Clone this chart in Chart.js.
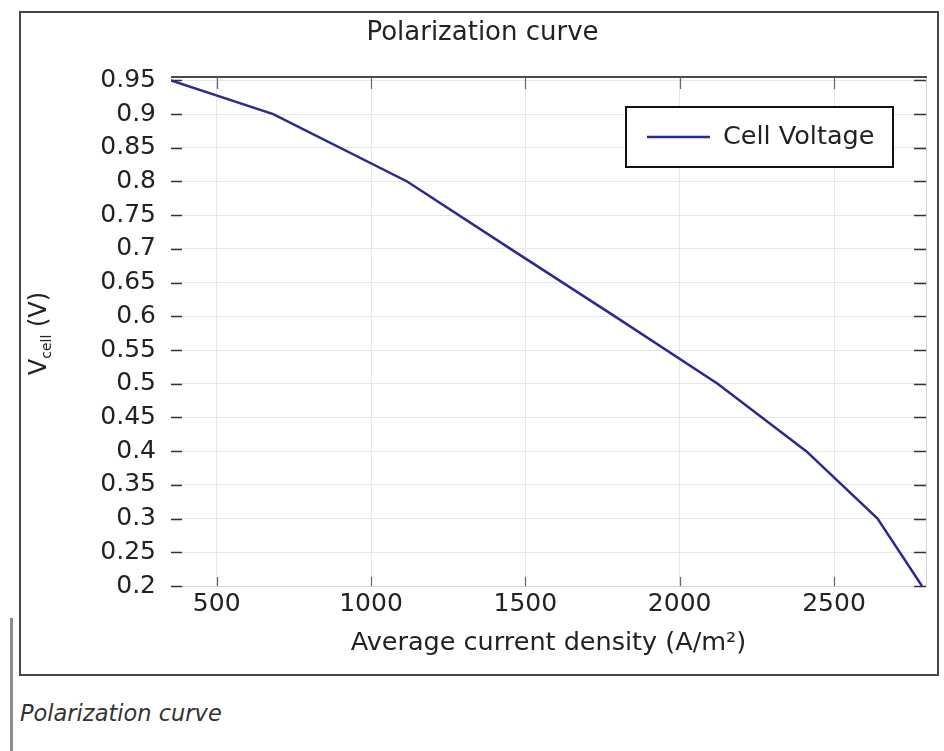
<!DOCTYPE html>
<html>
<head>
<meta charset="utf-8">
<title>Polarization curve</title>
<script src="https://cdn.jsdelivr.net/npm/chart.js@4.4.1/dist/chart.umd.min.js"></script>
<style>
  body { margin: 0; background: #fff; font-family: "DejaVu Sans", sans-serif; }
  #box { position: absolute; left: 19px; top: 11px; width: 916px; height: 661px; border: 2px solid #3d4850; background: #fff; }
  #bar { position: absolute; left: 10px; top: 618px; width: 3px; height: 133px; background: #8c8c8c; }
  #caption { position: absolute; left: 20px; top: 700px; font-style: italic; font-size: 22.5px; color: #333; }
</style>
</head>
<body>
<div id="box"><canvas id="myChart" width="916" height="661"></canvas></div>
<div id="bar"></div>
<div id="caption">Polarization curve</div>
<script>
// values
var currentDensity = [352, 683, 1117, 1452, 1790, 2123, 2410, 2641, 2785];
var cellVoltage = [0.95, 0.9, 0.8, 0.7, 0.6, 0.5, 0.4, 0.3, 0.2];
var xTicks = [500, 1000, 1500, 2000, 2500];
var yTicks = [0.2, 0.25, 0.3, 0.35, 0.4, 0.45, 0.5, 0.55, 0.6, 0.65, 0.7, 0.75, 0.8, 0.85, 0.9, 0.95];

var lineColor = '#2a2a92';
var textColor = '#222';
var fontFamily = 'DejaVu Sans';

Chart.defaults.font.family = fontFamily;

// ticks drawn inside the frame, on all four sides, plus the top frame line
var insideTicks = {
    id: 'insideTicks',
    beforeDatasetsDraw: function(chart) {
        var ctx = chart.ctx;
        var a = chart.chartArea;
        var sx = chart.scales.x;
        var sy = chart.scales.y;
        ctx.save();
        ctx.strokeStyle = '#d4d4d4';
        ctx.lineWidth = 1;
        ctx.beginPath();
        ctx.moveTo(a.right + 0.5, a.top);
        ctx.lineTo(a.right + 0.5, a.bottom);
        ctx.stroke();

        ctx.strokeStyle = '#4a4a4a';
        ctx.lineWidth = 2;
        ctx.beginPath();
        ctx.moveTo(a.left, a.top);
        ctx.lineTo(a.right + 1, a.top);
        ctx.stroke();

        ctx.strokeStyle = '#333';
        ctx.lineWidth = 1.5;
        ctx.beginPath();
        sy.ticks.forEach(function(t) {
            var py = Math.round(sy.getPixelForValue(t.value)) + 0.5;
            ctx.moveTo(a.left, py);
            ctx.lineTo(a.left + 11, py);
            ctx.moveTo(a.right - 12, py);
            ctx.lineTo(a.right, py);
        });
        ctx.stroke();
        ctx.strokeStyle = '#666';
        ctx.lineWidth = 1.2;
        ctx.beginPath();
        sx.ticks.forEach(function(t) {
            var px = Math.round(sx.getPixelForValue(t.value)) + 0.5;
            ctx.moveTo(px, a.bottom);
            ctx.lineTo(px, a.bottom - 9);
            ctx.moveTo(px, a.top);
            ctx.lineTo(px, a.top + 12);
        });
        ctx.stroke();
        ctx.restore();
    }
};

// y axis title with the "cell" subscript
var yTitle = {
    id: 'yTitle',
    afterDraw: function(chart) {
        var ctx = chart.ctx;
        var a = chart.chartArea;
        var big = '24px "' + fontFamily + '"';
        var small = '14px "' + fontFamily + '"';
        ctx.save();
        ctx.font = big;
        var w1 = ctx.measureText('V').width;
        var w3 = ctx.measureText(' (V)').width;
        ctx.font = small;
        var w2 = ctx.measureText('cell').width;
        var total = w1 + w2 + w3;
        ctx.translate(19, (a.top + a.bottom) / 2 + 2);
        ctx.rotate(-Math.PI / 2);
        ctx.fillStyle = textColor;
        ctx.textBaseline = 'middle';
        ctx.textAlign = 'left';
        var x0 = -total / 2;
        ctx.font = big;
        ctx.fillText('V', x0, 0);
        ctx.font = small;
        ctx.fillText('cell', x0 + w1, 7);
        ctx.font = big;
        ctx.fillText(' (V)', x0 + w1 + w2, 0);
        ctx.restore();
    }
};

// boxed legend inside the plot, top right
var boxLegend = {
    id: 'boxLegend',
    afterDraw: function(chart) {
        var ctx = chart.ctx;
        var a = chart.chartArea;
        var ds = chart.data.datasets[0];
        var bw = 267, bh = 60;
        var bx = a.right - 33 - bw;
        var by = a.top + 30;
        ctx.save();
        ctx.fillStyle = '#fff';
        ctx.fillRect(bx, by, bw, bh);
        ctx.strokeStyle = '#111';
        ctx.lineWidth = 2;
        ctx.strokeRect(bx, by, bw, bh);
        ctx.strokeStyle = ds.borderColor;
        ctx.lineWidth = 2.5;
        ctx.beginPath();
        ctx.moveTo(bx + 21, by + bh / 2);
        ctx.lineTo(bx + 84, by + bh / 2);
        ctx.stroke();
        ctx.fillStyle = textColor;
        ctx.font = '25.5px "' + fontFamily + '"';
        ctx.textBaseline = 'middle';
        ctx.fillText(ds.label, bx + 97, by + bh / 2);
        ctx.restore();
    }
};

var points = [];
for (var i = 0; i < currentDensity.length; i++) {
    points.push({ x: currentDensity[i], y: cellVoltage[i] });
}

var ctx = document.getElementById('myChart');

var myChart = new Chart(ctx, {
    type: 'line',
    data: {
        datasets: [{
            label: 'Cell Voltage',
            data: points,
            borderColor: lineColor,
            borderWidth: 2.5,
            pointRadius: 0,
            fill: false,
            tension: 0
        }]
    },
    options: {
        responsive: false,
        animation: false,
        layout: { padding: { left: 18, right: 11, top: 0, bottom: 0 } },
        plugins: {
            legend: { display: false },
            tooltip: { enabled: false },
            title: {
                display: true,
                text: 'Polarization curve',
                color: textColor,
                font: { size: 26, weight: 'normal' },
                padding: { top: 4.4, bottom: 28.4 }
            }
        },
        scales: {
            x: {
                type: 'linear',
                min: 352,
                max: 2798,
                afterBuildTicks: function(scale) {
                    scale.ticks = xTicks.map(function(v) { return { value: v }; });
                },
                afterFit: function(scale) { scale.height = 88; },
                grid: { color: '#e6e6e6', drawTicks: false },
                border: { display: true, color: '#d4d4d4' },
                ticks: {
                    color: textColor,
                    font: { size: 25 },
                    padding: 3,
                    maxRotation: 0,
                    autoSkip: false,
                    callback: function(v) { return String(v); }
                },
                title: {
                    display: true,
                    text: 'Average current density (A/m²)',
                    color: textColor,
                    font: { size: 25.5 },
                    padding: { top: 0, bottom: 15.5 }
                }
            },
            y: {
                min: 0.2,
                max: 0.955,
                afterBuildTicks: function(scale) {
                    scale.ticks = yTicks.map(function(v) { return { value: v }; });
                },
                afterFit: function(scale) { scale.width = 132; },
                grid: { color: '#e6e6e6', drawTicks: false },
                border: { display: false },
                ticks: {
                    color: textColor,
                    font: { size: 25 },
                    padding: 15,
                    autoSkip: false,
                    callback: function(v) { return String(v); }
                }
            }
        }
    },
    plugins: [insideTicks, yTitle, boxLegend]
});
</script>
</body>
</html>
